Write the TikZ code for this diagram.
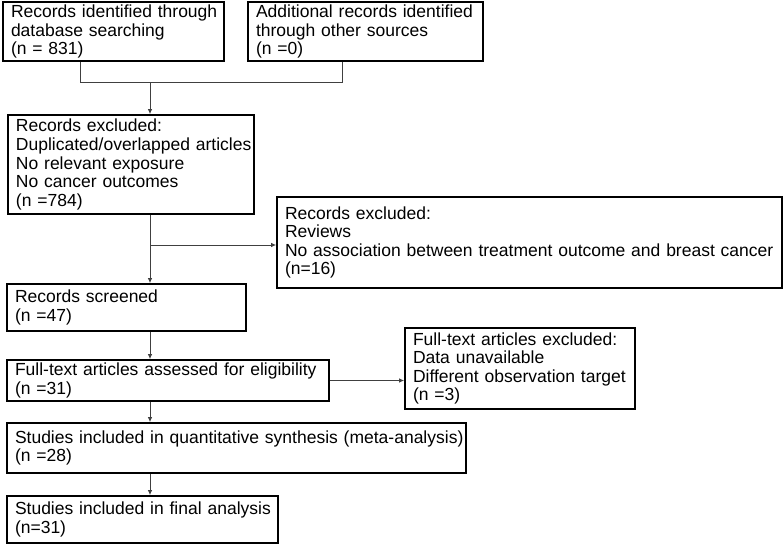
\documentclass[tikz,border=0pt]{standalone}
\usepackage{fontspec}
\setmainfont{Liberation Sans}
\usetikzlibrary{arrows.meta}
\begin{document}
\begin{tikzpicture}[x=1pt,y=-1pt,
  box/.style={draw=black, line width=1.7pt, rectangle, inner xsep=8pt, inner ysep=0pt,
    align=left, font=\fontsize{17.5}{18.6}\selectfont},
  conn/.style={draw=black!75, line width=0.9pt},
  arr/.style={conn, -{Latex[length=5pt,width=4.5pt]}}]
\useasboundingbox (0,0) rectangle (784,544);
\newcommand{\mybox}[6]{% name, x1, y1, x2, y2, text
  \pgfmathsetmacro{\bw}{#4-#2}\pgfmathsetmacro{\bh}{#5-#3}
  \pgfmathsetmacro{\tw}{#4-#2-16}
  \node[box, minimum width=\bw pt, minimum height=\bh pt, text width=\tw pt] (#1) at ({(#2+#4)/2},{(#3+#5)/2}) {#6};}
\newcommand{\tl}[1]{\mbox{#1}}
\mybox{A}{3}{2}{224}{61}{\tl{Records identified through}\\\tl{database searching}\\\tl{(n = 831)}}
\mybox{B}{248}{2}{483}{61}{\tl{Additional records identified}\\\tl{through other sources}\\\tl{(n =0)}}
\mybox{C}{8}{115}{254}{214}{\tl{Records excluded:}\\\tl{Duplicated/overlapped articles}\\\tl{No relevant exposure}\\\tl{No cancer outcomes}\\\tl{(n =784)}}
\mybox{D}{277}{197}{782}{288}{\tl{Records excluded:}\\\tl{Reviews}\\\tl{No association between treatment outcome and breast cancer}\\\tl{(n=16)}}
\mybox{E}{7}{284}{246}{331}{\tl{Records screened}\\\tl{(n =47)}}
\mybox{F}{7}{360}{329}{401}{\tl{Full-text articles assessed for eligibility}\\\tl{(n =31)}}
\mybox{G}{405}{328}{635}{409}{\tl{Full-text articles excluded:}\\\tl{Data unavailable}\\\tl{Different observation target}\\\tl{(n =3)}}
\mybox{H}{7}{423}{466}{473}{\tl{Studies included in quantitative synthesis (meta-analysis)}\\\tl{(n =28)}}
\mybox{I}{7}{496}{278}{543}{\tl{Studies included in final analysis}\\\tl{(n=31)}}
\coordinate (ja) at (80,82);
\coordinate (jb) at (342,82);
\coordinate (j1) at (150,82);
\coordinate (j2) at (150,245);
\draw[conn] (ja |- A.south) -- (ja) -- (jb) -- (jb |- B.south);
\draw[arr] (j1) -- (j1 |- C.north);
\draw[arr] (j1 |- C.south) -- (j1 |- E.north);
\draw[arr] (j2) -- (j2 -| D.west);
\draw[arr] (j1 |- E.south) -- (j1 |- F.north);
\draw[arr] (F.east) -- (F.east -| G.west);
\draw[arr] (j1 |- F.south) -- (j1 |- H.north);
\draw[arr] (j1 |- H.south) -- (j1 |- I.north);
\end{tikzpicture}
\end{document}
